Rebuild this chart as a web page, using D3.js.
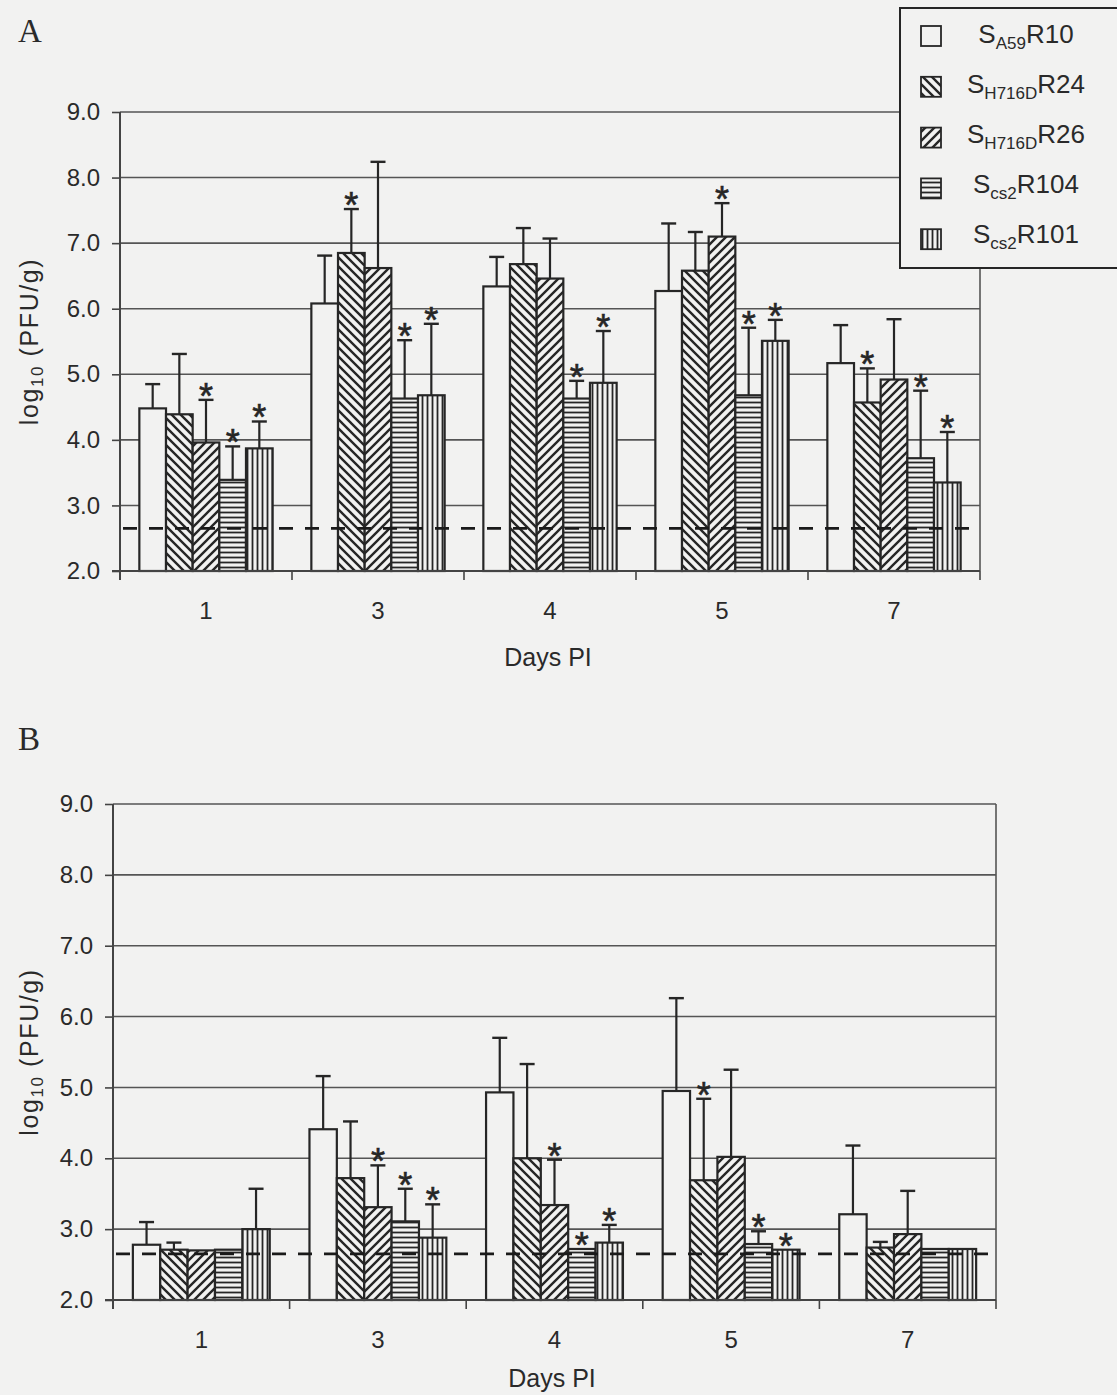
<!DOCTYPE html>
<html>
<head>
<meta charset="utf-8">
<script src="https://cdn.jsdelivr.net/npm/d3@7"></script>
<style>
  body { margin: 0; background: #f2f2f1; }
  svg { display: block; font-family: "Liberation Sans", Arial, sans-serif; }
</style>
</head>
<body>
<svg id="chart" width="1117" height="1395"></svg>
<script>
// categories
const days = ["1", "3", "4", "5", "7"];
const strainSubs = ["A59", "H716D", "H716D", "cs2", "cs2"];
const strainTails = ["R10", "R24", "R26", "R104", "R101"];
const yTicks = [2, 3, 4, 5, 6, 7, 8, 9];
const detectionLimit = 2.65;

// panel A: rows follow strainTails, columns follow days
const meanA = [
  [4.48, 6.08, 6.34, 6.27, 5.17],
  [4.39, 6.85, 6.68, 6.58, 4.57],
  [3.96, 6.62, 6.46, 7.10, 4.92],
  [3.39, 4.63, 4.63, 4.68, 3.72],
  [3.87, 4.68, 4.87, 5.51, 3.35]
];
const errA = [
  [0.37, 0.73, 0.45, 1.03, 0.58],
  [0.92, 0.67, 0.55, 0.59, 0.52],
  [0.65, 1.62, 0.61, 0.51, 0.92],
  [0.51, 0.89, 0.27, 1.03, 1.03],
  [0.41, 1.09, 0.79, 0.32, 0.77]
];
const starA = [
  [0, 0, 0, 0, 0],
  [0, 1, 0, 0, 1],
  [1, 0, 0, 1, 0],
  [1, 1, 1, 1, 1],
  [1, 1, 1, 1, 1]
];

// panel B
const meanB = [
  [2.78, 4.41, 4.93, 4.95, 3.21],
  [2.71, 3.72, 4.00, 3.69, 2.74],
  [2.70, 3.31, 3.34, 4.02, 2.93],
  [2.71, 3.11, 2.72, 2.79, 2.72],
  [3.00, 2.88, 2.81, 2.71, 2.72]
];
const errB = [
  [0.32, 0.75, 0.77, 1.31, 0.97],
  [0.10, 0.80, 1.33, 1.15, 0.08],
  [0.00, 0.59, 0.64, 1.23, 0.61],
  [0.00, 0.46, 0.00, 0.18, 0.00],
  [0.57, 0.47, 0.25, 0.00, 0.00]
];
const starB = [
  [0, 0, 0, 0, 0],
  [0, 0, 0, 1, 0],
  [0, 1, 1, 0, 0],
  [0, 1, 1, 1, 0],
  [0, 1, 1, 1, 0]
];

const bg = "#f2f2f1";
const ink = "#262626";
const txtCol = "#2a2a2a";
const svg = d3.select("#chart");
svg.append("rect").attr("width", 1117).attr("height", 1395).attr("fill", bg);

// hatch fills
const defs = svg.append("defs");
function stripes(id, w, h, d, sw) {
  const p = defs.append("pattern").attr("id", id)
    .attr("patternUnits", "userSpaceOnUse").attr("width", w).attr("height", h);
  p.append("rect").attr("width", w).attr("height", h).attr("fill", bg);
  p.append("path").attr("d", d).attr("stroke", ink).attr("stroke-width", sw).attr("fill", "none");
}
stripes("hatch-back", 9, 9, "M-1,-1L10,10M-3,6L3,12M6,-3L12,3", 2.4);
stripes("hatch-fwd", 9, 9, "M-1,10L10,-1M-3,3L3,-3M6,12L12,6", 2.4);
stripes("hatch-horiz", 5, 5, "M0,2.5H5", 1.8);
stripes("hatch-vert", 5, 5, "M2.5,0V5", 1.8);
const fills = [bg, "url(#hatch-back)", "url(#hatch-fwd)", "url(#hatch-horiz)", "url(#hatch-vert)"];

function drawPanel(o) {
  const g = svg.append("g");
  const y = d3.scaleLinear().domain([2, 9]).range([o.bottom, o.top]);
  const x0 = d3.scaleBand().domain(days).range([o.left, o.right])
    .paddingInner(0.225).paddingOuter(0.1125);
  const x1 = d3.scaleBand().domain(d3.range(strainTails.length)).range([0, x0.bandwidth()]);
  const gap = x0.step() * 0.1125;

  // gridlines
  g.append("g").selectAll("line").data(yTicks.slice(1)).join("line")
    .attr("x1", o.left).attr("x2", o.right)
    .attr("y1", d => y(d)).attr("y2", d => y(d))
    .attr("stroke", "#555").attr("stroke-width", 1.6);

  // right border
  g.append("line").attr("x1", o.right).attr("x2", o.right)
    .attr("y1", o.top).attr("y2", o.bottom)
    .attr("stroke", "#555").attr("stroke-width", 1.6);

  const rows = [];
  strainTails.forEach((s, si) => days.forEach((d, di) => rows.push({
    si, d, mean: o.mean[si][di], err: o.err[si][di], star: o.star[si][di]
  })));
  const cx = r => x0(r.d) + x1(r.si) + x1.bandwidth() / 2;

  // error bars (upper only)
  const eb = rows.filter(r => r.err > 0);
  g.append("g").selectAll("line").data(eb).join("line")
    .attr("x1", cx).attr("x2", cx)
    .attr("y1", r => y(r.mean)).attr("y2", r => y(r.mean + r.err))
    .attr("stroke", ink).attr("stroke-width", 2.2);
  g.append("g").selectAll("line").data(eb).join("line")
    .attr("x1", r => cx(r) - 7.5).attr("x2", r => cx(r) + 7.5)
    .attr("y1", r => y(r.mean + r.err)).attr("y2", r => y(r.mean + r.err))
    .attr("stroke", ink).attr("stroke-width", 2.4);

  // bars
  g.append("g").selectAll("rect").data(rows).join("rect")
    .attr("x", r => x0(r.d) + x1(r.si))
    .attr("width", x1.bandwidth())
    .attr("y", r => y(r.mean))
    .attr("height", r => y(2) - y(r.mean))
    .attr("fill", r => fills[r.si])
    .attr("stroke", ink).attr("stroke-width", 2.2);

  // significance stars
  g.append("g").selectAll("text").data(rows.filter(r => r.star)).join("text")
    .attr("x", cx)
    .attr("y", r => y(r.mean + r.err) + 9)
    .attr("text-anchor", "middle")
    .attr("font-size", 36).attr("fill", ink)
    .attr("stroke", ink).attr("stroke-width", 0.6)
    .text("*");

  // detection limit
  g.append("line")
    .attr("x1", o.left + 3).attr("x2", o.dashEnd)
    .attr("y1", y(detectionLimit)).attr("y2", y(detectionLimit))
    .attr("stroke", "#1a1a1a").attr("stroke-width", 2.8)
    .attr("stroke-dasharray", "14,12");

  // y axis
  const ya = g.append("g").attr("transform", `translate(${o.left},0)`)
    .call(d3.axisLeft(y).tickValues(yTicks).tickFormat(d3.format(".1f"))
      .tickSize(8).tickPadding(12));
  ya.attr("font-family", null).attr("font-size", null);
  ya.select(".domain").remove();
  ya.selectAll("line").attr("stroke", "#444").attr("stroke-width", 1.6);
  ya.selectAll("text").attr("font-size", 24).attr("fill", txtCol);
  g.append("line").attr("x1", o.left).attr("x2", o.left)
    .attr("y1", o.top).attr("y2", o.bottom + 9)
    .attr("stroke", "#444").attr("stroke-width", 2);

  // x axis
  const xa = g.append("g").attr("transform", `translate(0,${o.bottom})`)
    .call(d3.axisBottom(x0).tickSize(0).tickPadding(31));
  xa.attr("font-family", null).attr("font-size", null);
  xa.select(".domain").remove();
  xa.selectAll("text").attr("font-size", 24).attr("fill", txtCol);
  g.append("line").attr("x1", o.left - 8).attr("x2", o.right)
    .attr("y1", o.bottom).attr("y2", o.bottom)
    .attr("stroke", "#444").attr("stroke-width", 2);
  const bounds = days.map(d => x0(d) - gap).concat([o.right]);
  g.append("g").selectAll("line").data(bounds.slice(1)).join("line")
    .attr("x1", d => d).attr("x2", d => d)
    .attr("y1", o.bottom).attr("y2", o.bottom + 9)
    .attr("stroke", "#444").attr("stroke-width", 1.6);

  // axis titles
  g.append("text").attr("x", o.titleX).attr("y", o.titleY)
    .attr("text-anchor", "middle").attr("font-size", 25).attr("fill", txtCol)
    .text("Days PI");
  const yl = g.append("text")
    .attr("transform", `translate(38,${(o.top + o.bottom) / 2}) rotate(-90)`)
    .attr("text-anchor", "middle").attr("font-size", 25).attr("fill", txtCol)
    .attr("letter-spacing", 1.6);
  yl.append("tspan").text("log");
  yl.append("tspan").attr("font-size", 17).attr("dy", 5).text("10");
  yl.append("tspan").attr("dy", -5).text(" (PFU/g)");

  // panel letter
  g.append("text").attr("x", 18).attr("y", o.letterY)
    .attr("font-family", "'Liberation Serif', 'Times New Roman', serif")
    .attr("font-size", 33).attr("fill", txtCol).text(o.letter);
}

drawPanel({ letter: "A", letterY: 42, left: 120, right: 980, top: 112, bottom: 571,
  dashEnd: 980, titleX: 548, titleY: 666, mean: meanA, err: errA, star: starA });
drawPanel({ letter: "B", letterY: 750, left: 113, right: 996, top: 804, bottom: 1300,
  dashEnd: 1000, titleX: 552, titleY: 1387, mean: meanB, err: errB, star: starB });

// legend (panel A)
const leg = svg.append("g");
leg.append("rect").attr("x", 900).attr("y", 8).attr("width", 240).attr("height", 260)
  .attr("fill", bg).attr("stroke", ink).attr("stroke-width", 2);
strainTails.forEach((t, i) => {
  const cy = 36 + i * 50.8;
  leg.append("rect").attr("x", 921).attr("y", cy - 10).attr("width", 20).attr("height", 20)
    .attr("fill", fills[i]).attr("stroke", ink).attr("stroke-width", 1.8);
  const txt = leg.append("text").attr("x", 1026).attr("y", 43 + i * 50)
    .attr("text-anchor", "middle").attr("font-size", 26).attr("fill", txtCol);
  txt.append("tspan").text("S");
  txt.append("tspan").attr("font-size", 17).attr("dy", 6).text(strainSubs[i]);
  txt.append("tspan").attr("dy", -6).text(t);
});
</script>
</body>
</html>
